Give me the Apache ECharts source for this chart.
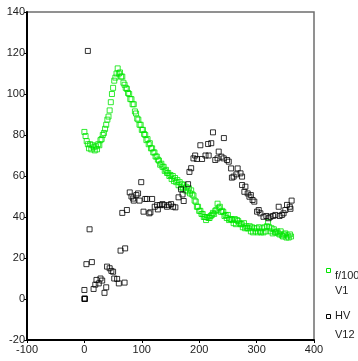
<!DOCTYPE html>
<html>
<head>
<meta charset="utf-8">
<script src="https://cdn.jsdelivr.net/npm/echarts@6/dist/echarts.min.js"></script>
<style>
html,body{margin:0;padding:0;background:#fff;}
#c{width:358px;height:361px;}
</style>
</head>
<body>
<div id="c"></div>
<script>
// Green series f/100 (V1): x step 2 from 0 to 360
const greenX = [];
for (let i = 0; i <= 360; i += 2) greenX.push(i);
const greenY = [
81.5,79.5,77,75.5,73.5,75.5,73,75,74,72.5,74.5,73,75.5,75,77.5,78,80,81,83,85,
87.5,89,92,96,100,103,106.5,108,110,112.5,110,110.5,108.5,108.5,105.5,104.5,103,102.5,100.5,100,
97.5,97.5,95,95,91.5,90.5,88,87.5,85,85,82.5,82.5,80.5,80,77.5,78,75.5,76,73.5,73.5,
71.5,71.5,69.5,69.5,68,67.5,65.5,66,64.5,64.5,62.5,63,61.5,61.5,60,60.5,58.5,60,57.5,59,
57,58,55.5,57,54.5,56,54,55.5,53,54.5,52.5,54,51.5,53,51,50.5,48,47.5,45,45,
43,43,41.5,41.5,40,40,38.5,40,39.5,39.5,40.5,41,42,41.5,43,43.5,46.5,44.5,45,42.5,
43,42.5,40.5,41,39.5,41,38.5,39,39,38.5,37,39,36.5,38.5,38,37,36.5,36.5,35,37,
34.5,35.5,34.5,34.5,35.5,33,35,32.5,34.5,33,34.5,32.5,35,33,32.5,34.5,32.5,35,33,35.5,
37.5,35,33,34.5,32,34,32.5,32.5,33,32,31.5,33,31,30.5,31.5,32,30,31,30,31.5,30.5
];
// Black series HV (V12)
const blackX = [0,0.5,1,0,3.5,13,9,6,16,19,21,25,28,31,35,38,39.5,44,47,50,52,57,60,70,63,71,66,74,79,82,85,86,90.6,93.5,96,99,103,106,109,113,115,118,122.5,126.6,128,132,136,139,144,147,151,154.5,158.5,164,168.5,171,173,180.6,183,186,190,193,196,202,205,211,215.5,216.5,221,224,228,232,234,238.7,242.7,243,248.6,251.5,255.6,257,260,264.8,267,272,274.7,274.7,280.5,278.7,284.5,287.5,290,293,296,300.8,303.7,306.6,312,317,321,324,328.7,332.7,338.5,340,344,347,350,353,357.7,359,361];
const blackY = [0,0.3,0,4.4,17,18,34,121,4.9,7,9.3,7.6,10,9,3,5.7,15.8,15,13.7,13.3,10,9.8,7.6,8,23.6,24.7,42,43.4,52,50,49,48,50.7,51.5,48,57,42.6,48.8,48.8,41.8,42.3,48.8,45,45.8,43.7,45.8,46.3,45.8,45,45.8,46.3,45,44.7,49.6,53.5,51,47.8,56,62,63.8,68.6,70,68.3,75,68.3,70,75.6,70,76,81.3,67.8,68.6,71.9,69.4,68.6,78.5,67.8,67,63.7,59.2,59.7,60.8,63.7,61.3,59.7,55.6,54.8,52.3,51.5,49.9,50.7,48.3,47.5,42.6,43.4,41.8,40.1,40.5,39.4,40.1,40.5,41,45,40.5,41,41.8,43.4,45.9,45,44,48];
const xTicks = {min:-100, max:400, interval:100};
const yTicks = {min:-20, max:140, interval:20};
const legendNames = [['f/100','V1'],['HV','V12']];

const green = greenX.map((x,i)=>[x, greenY[i]]);
const black = blackX.map((x,i)=>[x, blackY[i]]);

const chart = echarts.init(document.getElementById('c'), null, {renderer:'canvas'});
const font = 'Liberation Sans, Arial, sans-serif';
chart.setOption({
  animation:false,
  backgroundColor:'#fff',
  grid:{left:27,right:44,top:12,bottom:21,show:true,borderColor:'#6e6e6e',borderWidth:1.5,backgroundColor:'transparent'},
  xAxis:{type:'value',min:xTicks.min,max:xTicks.max,interval:xTicks.interval,
    splitLine:{show:false},
    axisLine:{show:true,onZero:false,lineStyle:{color:'#000',width:2}},
    axisTick:{show:true,length:3,lineStyle:{color:'#000'}},
    axisLabel:{color:'#222',fontSize:11,fontFamily:font,margin:4}},
  yAxis:{type:'value',min:yTicks.min,max:yTicks.max,interval:yTicks.interval,
    splitLine:{show:false},
    axisLine:{show:true,onZero:false,lineStyle:{color:'#000',width:2}},
    axisTick:{show:true,length:3,lineStyle:{color:'#000'}},
    axisLabel:{color:'#222',fontSize:11,fontFamily:font,margin:2}},
  series:[
    {name:'f/100',type:'scatter',data:green,symbol:'rect',symbolSize:5,
     itemStyle:{color:'transparent',borderColor:'#00e600',borderWidth:1}},
    {name:'HV',type:'scatter',data:black,symbol:'rect',symbolSize:5,
     itemStyle:{color:'transparent',borderColor:'#000',borderWidth:1}}
  ],
  graphic:[
    {type:'rect',left:324,top:266,shape:{width:4,height:4},style:{fill:'none',stroke:'#00e600',lineWidth:1}},
    {type:'text',left:335,top:270,style:{text:legendNames[0][0],fill:'#222',font:'11px '+font}},
    {type:'text',left:335,top:285,style:{text:legendNames[0][1],fill:'#222',font:'11px '+font}},
    {type:'rect',left:324,top:312,shape:{width:4,height:4},style:{fill:'none',stroke:'#000',lineWidth:1}},
    {type:'text',left:335,top:310,style:{text:legendNames[1][0],fill:'#222',font:'11px '+font}},
    {type:'text',left:335,top:329,style:{text:legendNames[1][1],fill:'#222',font:'11px '+font}}
  ]
});
</script>
</body>
</html>
